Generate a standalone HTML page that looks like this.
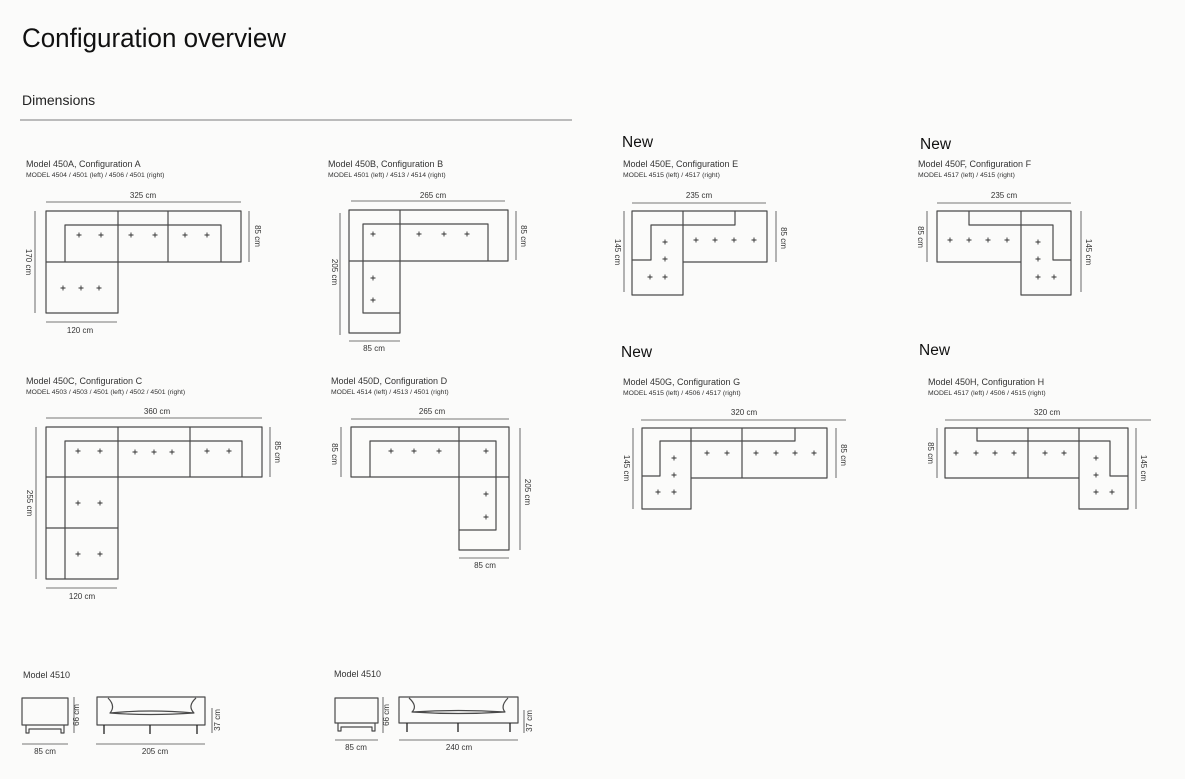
<!DOCTYPE html>
<html><head><meta charset="utf-8"><style>
html,body{margin:0;padding:0;background:#fbfbfa;}
svg{display:block;font-family:"Liberation Sans",sans-serif;}
.o{fill:none;stroke:#4a4a4a;stroke-width:1.2;stroke-linejoin:round}
.d{stroke:#777;stroke-width:1.1}
.t{fill:#333;font-size:8px}
.m{fill:#333;font-size:9px}
.s{fill:#333;font-size:6.8px}
.n{fill:#111;font-size:15.5px}
</style></head><body>
<svg width="1185" height="779" viewBox="0 0 1185 779" xmlns="http://www.w3.org/2000/svg">
<defs><path id="p" d="M-2.5 0H2.5M0 -2.5V2.5" stroke="#333" stroke-width="0.9"/></defs>
<text x="22" y="47" font-size="26.5" fill="#111" textLength="264" lengthAdjust="spacingAndGlyphs">Configuration overview</text>
<text x="22" y="105" font-size="14" fill="#222">Dimensions</text>
<line x1="20" y1="120" x2="572" y2="120" stroke="#bbb" stroke-width="2"/>

<text class="n" x="622" y="147">New</text>
<text class="n" x="920" y="149">New</text>
<text class="n" x="621" y="357">New</text>
<text class="n" x="919" y="355">New</text>

<!-- A -->
<text class="m" x="26" y="167">Model 450A, Configuration A</text>
<text class="s" x="26" y="177">MODEL 4504 / 4501 (left) / 4506 / 4501 (right)</text>
<path class="o" d="M46 211H241V262H118V313H46Z M46 262H118 M118 211V262 M168 211V262 M65 262V225H221V262"/>
<line class="d" x1="46" y1="202" x2="241" y2="202"/><text class="t" x="143" y="198" text-anchor="middle">325 cm</text>
<line class="d" x1="249" y1="211" x2="249" y2="262"/><text class="t" transform="translate(255,236) rotate(90)" text-anchor="middle">85 cm</text>
<line class="d" x1="35" y1="211" x2="35" y2="313"/><text class="t" transform="translate(26,262) rotate(90)" text-anchor="middle">170 cm</text>
<line class="d" x1="46" y1="322" x2="117" y2="322"/><text class="t" x="80" y="333" text-anchor="middle">120 cm</text>
<g><use href="#p" x="79" y="235"/><use href="#p" x="101" y="235"/><use href="#p" x="131" y="235"/><use href="#p" x="155" y="235"/><use href="#p" x="185" y="235"/><use href="#p" x="207" y="235"/><use href="#p" x="63" y="288"/><use href="#p" x="81" y="288"/><use href="#p" x="99" y="288"/></g>

<!-- B -->
<text class="m" x="328" y="167">Model 450B, Configuration B</text>
<text class="s" x="328" y="177">MODEL 4501 (left) / 4513 / 4514 (right)</text>
<path class="o" d="M349 210H508V261H400V333H349Z M349 261H400 M400 210V261 M400 313H363V224H488V261"/>
<line class="d" x1="351" y1="201" x2="505" y2="201"/><text class="t" x="433" y="198" text-anchor="middle">265 cm</text>
<line class="d" x1="516" y1="211" x2="516" y2="260"/><text class="t" transform="translate(521,236) rotate(90)" text-anchor="middle">85 cm</text>
<line class="d" x1="340" y1="213" x2="340" y2="335"/><text class="t" transform="translate(332,272) rotate(90)" text-anchor="middle">205 cm</text>
<line class="d" x1="349" y1="341" x2="400" y2="341"/><text class="t" x="374" y="351" text-anchor="middle">85 cm</text>
<use href="#p" x="373" y="234"/><use href="#p" x="419" y="234"/><use href="#p" x="444" y="234"/><use href="#p" x="467" y="234"/><use href="#p" x="373" y="278"/><use href="#p" x="373" y="300"/>

<!-- E -->
<text class="m" x="623" y="167">Model 450E, Configuration E</text>
<text class="s" x="623" y="177">MODEL 4515 (left) / 4517 (right)</text>
<path class="o" d="M632 211H767V262H683V295H632Z M683 211V262 M632 260H651V225H683 M735 211V225H683"/>
<line class="d" x1="632" y1="203" x2="766" y2="203"/><text class="t" x="699" y="198" text-anchor="middle">235 cm</text>
<line class="d" x1="624" y1="211" x2="624" y2="292"/><text class="t" transform="translate(615,252) rotate(90)" text-anchor="middle">145 cm</text>
<line class="d" x1="776" y1="211" x2="776" y2="262"/><text class="t" transform="translate(781,238) rotate(90)" text-anchor="middle">85 cm</text>
<use href="#p" x="665" y="242"/><use href="#p" x="665" y="259"/><use href="#p" x="650" y="277"/><use href="#p" x="665" y="277"/><use href="#p" x="696" y="240"/><use href="#p" x="715" y="240"/><use href="#p" x="734" y="240"/><use href="#p" x="754" y="240"/>

<!-- F -->
<text class="m" x="918" y="167">Model 450F, Configuration F</text>
<text class="s" x="918" y="177">MODEL 4517 (left) / 4515 (right)</text>
<path class="o" d="M937 211H1071V295H1021V262H937Z M1021 211V262 M969 211V225H1021 M1021 225H1053V260H1071"/>
<line class="d" x1="937" y1="203" x2="1071" y2="203"/><text class="t" x="1004" y="198" text-anchor="middle">235 cm</text>
<line class="d" x1="927" y1="211" x2="927" y2="262"/><text class="t" transform="translate(918,237) rotate(90)" text-anchor="middle">85 cm</text>
<line class="d" x1="1081" y1="211" x2="1081" y2="292"/><text class="t" transform="translate(1086,252) rotate(90)" text-anchor="middle">145 cm</text>
<use href="#p" x="950" y="240"/><use href="#p" x="969" y="240"/><use href="#p" x="988" y="240"/><use href="#p" x="1007" y="240"/><use href="#p" x="1038" y="242"/><use href="#p" x="1038" y="259"/><use href="#p" x="1038" y="277"/><use href="#p" x="1054" y="277"/>

<!-- C -->
<text class="m" x="26" y="384">Model 450C, Configuration C</text>
<text class="s" x="26" y="394">MODEL 4503 / 4503 / 4501 (left) / 4502 / 4501 (right)</text>
<path class="o" d="M46 427H262V477H118V579H46Z M46 477H118 M46 528H118 M118 427V477 M190 427V477 M65 579V441H242V477"/>
<line class="d" x1="46" y1="418" x2="262" y2="418"/><text class="t" x="157" y="414" text-anchor="middle">360 cm</text>
<line class="d" x1="270" y1="427" x2="270" y2="477"/><text class="t" transform="translate(275,452) rotate(90)" text-anchor="middle">85 cm</text>
<line class="d" x1="36" y1="427" x2="36" y2="579"/><text class="t" transform="translate(27,503) rotate(90)" text-anchor="middle">255 cm</text>
<line class="d" x1="46" y1="588" x2="117" y2="588"/><text class="t" x="82" y="599" text-anchor="middle">120 cm</text>
<use href="#p" x="78" y="451"/><use href="#p" x="100" y="451"/><use href="#p" x="135" y="452"/><use href="#p" x="154" y="452"/><use href="#p" x="172" y="452"/><use href="#p" x="207" y="451"/><use href="#p" x="229" y="451"/><use href="#p" x="78" y="503"/><use href="#p" x="100" y="503"/><use href="#p" x="78" y="554"/><use href="#p" x="100" y="554"/>

<!-- D -->
<text class="m" x="331" y="384">Model 450D, Configuration D</text>
<text class="s" x="331" y="394">MODEL 4514 (left) / 4513 / 4501 (right)</text>
<path class="o" d="M351 427H509V550H459V477H351Z M459 427V477 M459 477H509 M370 477V441H496V530H459"/>
<line class="d" x1="351" y1="419" x2="509" y2="419"/><text class="t" x="432" y="414" text-anchor="middle">265 cm</text>
<line class="d" x1="341" y1="427" x2="341" y2="477"/><text class="t" transform="translate(332,454) rotate(90)" text-anchor="middle">85 cm</text>
<line class="d" x1="520" y1="428" x2="520" y2="550"/><text class="t" transform="translate(525,492) rotate(90)" text-anchor="middle">205 cm</text>
<line class="d" x1="459" y1="558" x2="509" y2="558"/><text class="t" x="485" y="568" text-anchor="middle">85 cm</text>
<use href="#p" x="391" y="451"/><use href="#p" x="414" y="451"/><use href="#p" x="439" y="451"/><use href="#p" x="486" y="451"/><use href="#p" x="486" y="494"/><use href="#p" x="486" y="517"/>

<!-- G -->
<text class="m" x="623" y="385">Model 450G, Configuration G</text>
<text class="s" x="623" y="395">MODEL 4515 (left) / 4506 / 4517 (right)</text>
<path class="o" d="M642 428H827V478H691V509H642Z M691 428V478 M742 428V478 M642 476H660V441H742 M742 441H795V428"/>
<line class="d" x1="641" y1="420" x2="846" y2="420"/><text class="t" x="744" y="415" text-anchor="middle">320 cm</text>
<line class="d" x1="633" y1="428" x2="633" y2="509"/><text class="t" transform="translate(624,468) rotate(90)" text-anchor="middle">145 cm</text>
<line class="d" x1="836" y1="428" x2="836" y2="478"/><text class="t" transform="translate(841,455) rotate(90)" text-anchor="middle">85 cm</text>
<use href="#p" x="674" y="458"/><use href="#p" x="674" y="475"/><use href="#p" x="658" y="492"/><use href="#p" x="674" y="492"/><use href="#p" x="707" y="453"/><use href="#p" x="727" y="453"/><use href="#p" x="756" y="453"/><use href="#p" x="776" y="453"/><use href="#p" x="795" y="453"/><use href="#p" x="814" y="453"/>

<!-- H -->
<text class="m" x="928" y="385">Model 450H, Configuration H</text>
<text class="s" x="928" y="395">MODEL 4517 (left) / 4506 / 4515 (right)</text>
<path class="o" d="M945 428H1128V509H1079V478H945Z M1028 428V478 M1079 428V478 M977 428V441H1110V476H1128"/>
<line class="d" x1="945" y1="420" x2="1151" y2="420"/><text class="t" x="1047" y="415" text-anchor="middle">320 cm</text>
<line class="d" x1="937" y1="428" x2="937" y2="478"/><text class="t" transform="translate(928,453) rotate(90)" text-anchor="middle">85 cm</text>
<line class="d" x1="1136" y1="428" x2="1136" y2="509"/><text class="t" transform="translate(1141,468) rotate(90)" text-anchor="middle">145 cm</text>
<use href="#p" x="956" y="453"/><use href="#p" x="976" y="453"/><use href="#p" x="995" y="453"/><use href="#p" x="1014" y="453"/><use href="#p" x="1045" y="453"/><use href="#p" x="1064" y="453"/><use href="#p" x="1096" y="458"/><use href="#p" x="1096" y="475"/><use href="#p" x="1096" y="492"/><use href="#p" x="1112" y="492"/>

<!-- Bottom 1 -->
<text class="m" x="23" y="678">Model 4510</text>
<path class="o" d="M22 698H68V725H22Z M26 725V733H29V729H61V733H64V725"/>
<line class="d" x1="74" y1="697" x2="74" y2="733"/><text class="t" transform="translate(79,715) rotate(-90)" text-anchor="middle">66 cm</text>
<path class="o" d="M97 697H205V725H97Z M108 698Q116 706 110 713Q150 709 194 713Q187 706 196 698 M110 713Q150 716 194 713"/>
<path stroke="#222" stroke-width="1.3" d="M104 725V734M150 725V734M197 725V734"/>
<line class="d" x1="212" y1="708" x2="212" y2="733"/><text class="t" transform="translate(220,720) rotate(-90)" text-anchor="middle">37 cm</text>
<line class="d" x1="22" y1="744" x2="68" y2="744"/><text class="t" x="45" y="754" text-anchor="middle">85 cm</text>
<line class="d" x1="96" y1="744" x2="205" y2="744"/><text class="t" x="155" y="754" text-anchor="middle">205 cm</text>

<!-- Bottom 2 -->
<text class="m" x="334" y="677">Model 4510</text>
<path class="o" d="M335 698H378V723H335Z M338 723V731H341V727H372V731H375V723"/>
<line class="d" x1="383" y1="697" x2="383" y2="733"/><text class="t" transform="translate(389,715) rotate(-90)" text-anchor="middle">66 cm</text>
<path class="o" d="M399 697H518V723H399Z M409 698Q418 706 412 712Q458 709 505 712Q500 706 508 698 M412 712Q458 715 505 712"/>
<path stroke="#222" stroke-width="1.3" d="M407 723V732M458 723V732M510 723V732"/>
<line class="d" x1="524" y1="710" x2="524" y2="733"/><text class="t" transform="translate(532,721) rotate(-90)" text-anchor="middle">37 cm</text>
<line class="d" x1="335" y1="740" x2="378" y2="740"/><text class="t" x="356" y="750" text-anchor="middle">85 cm</text>
<line class="d" x1="399" y1="740" x2="518" y2="740"/><text class="t" x="459" y="750" text-anchor="middle">240 cm</text>
</svg>
</body></html>
